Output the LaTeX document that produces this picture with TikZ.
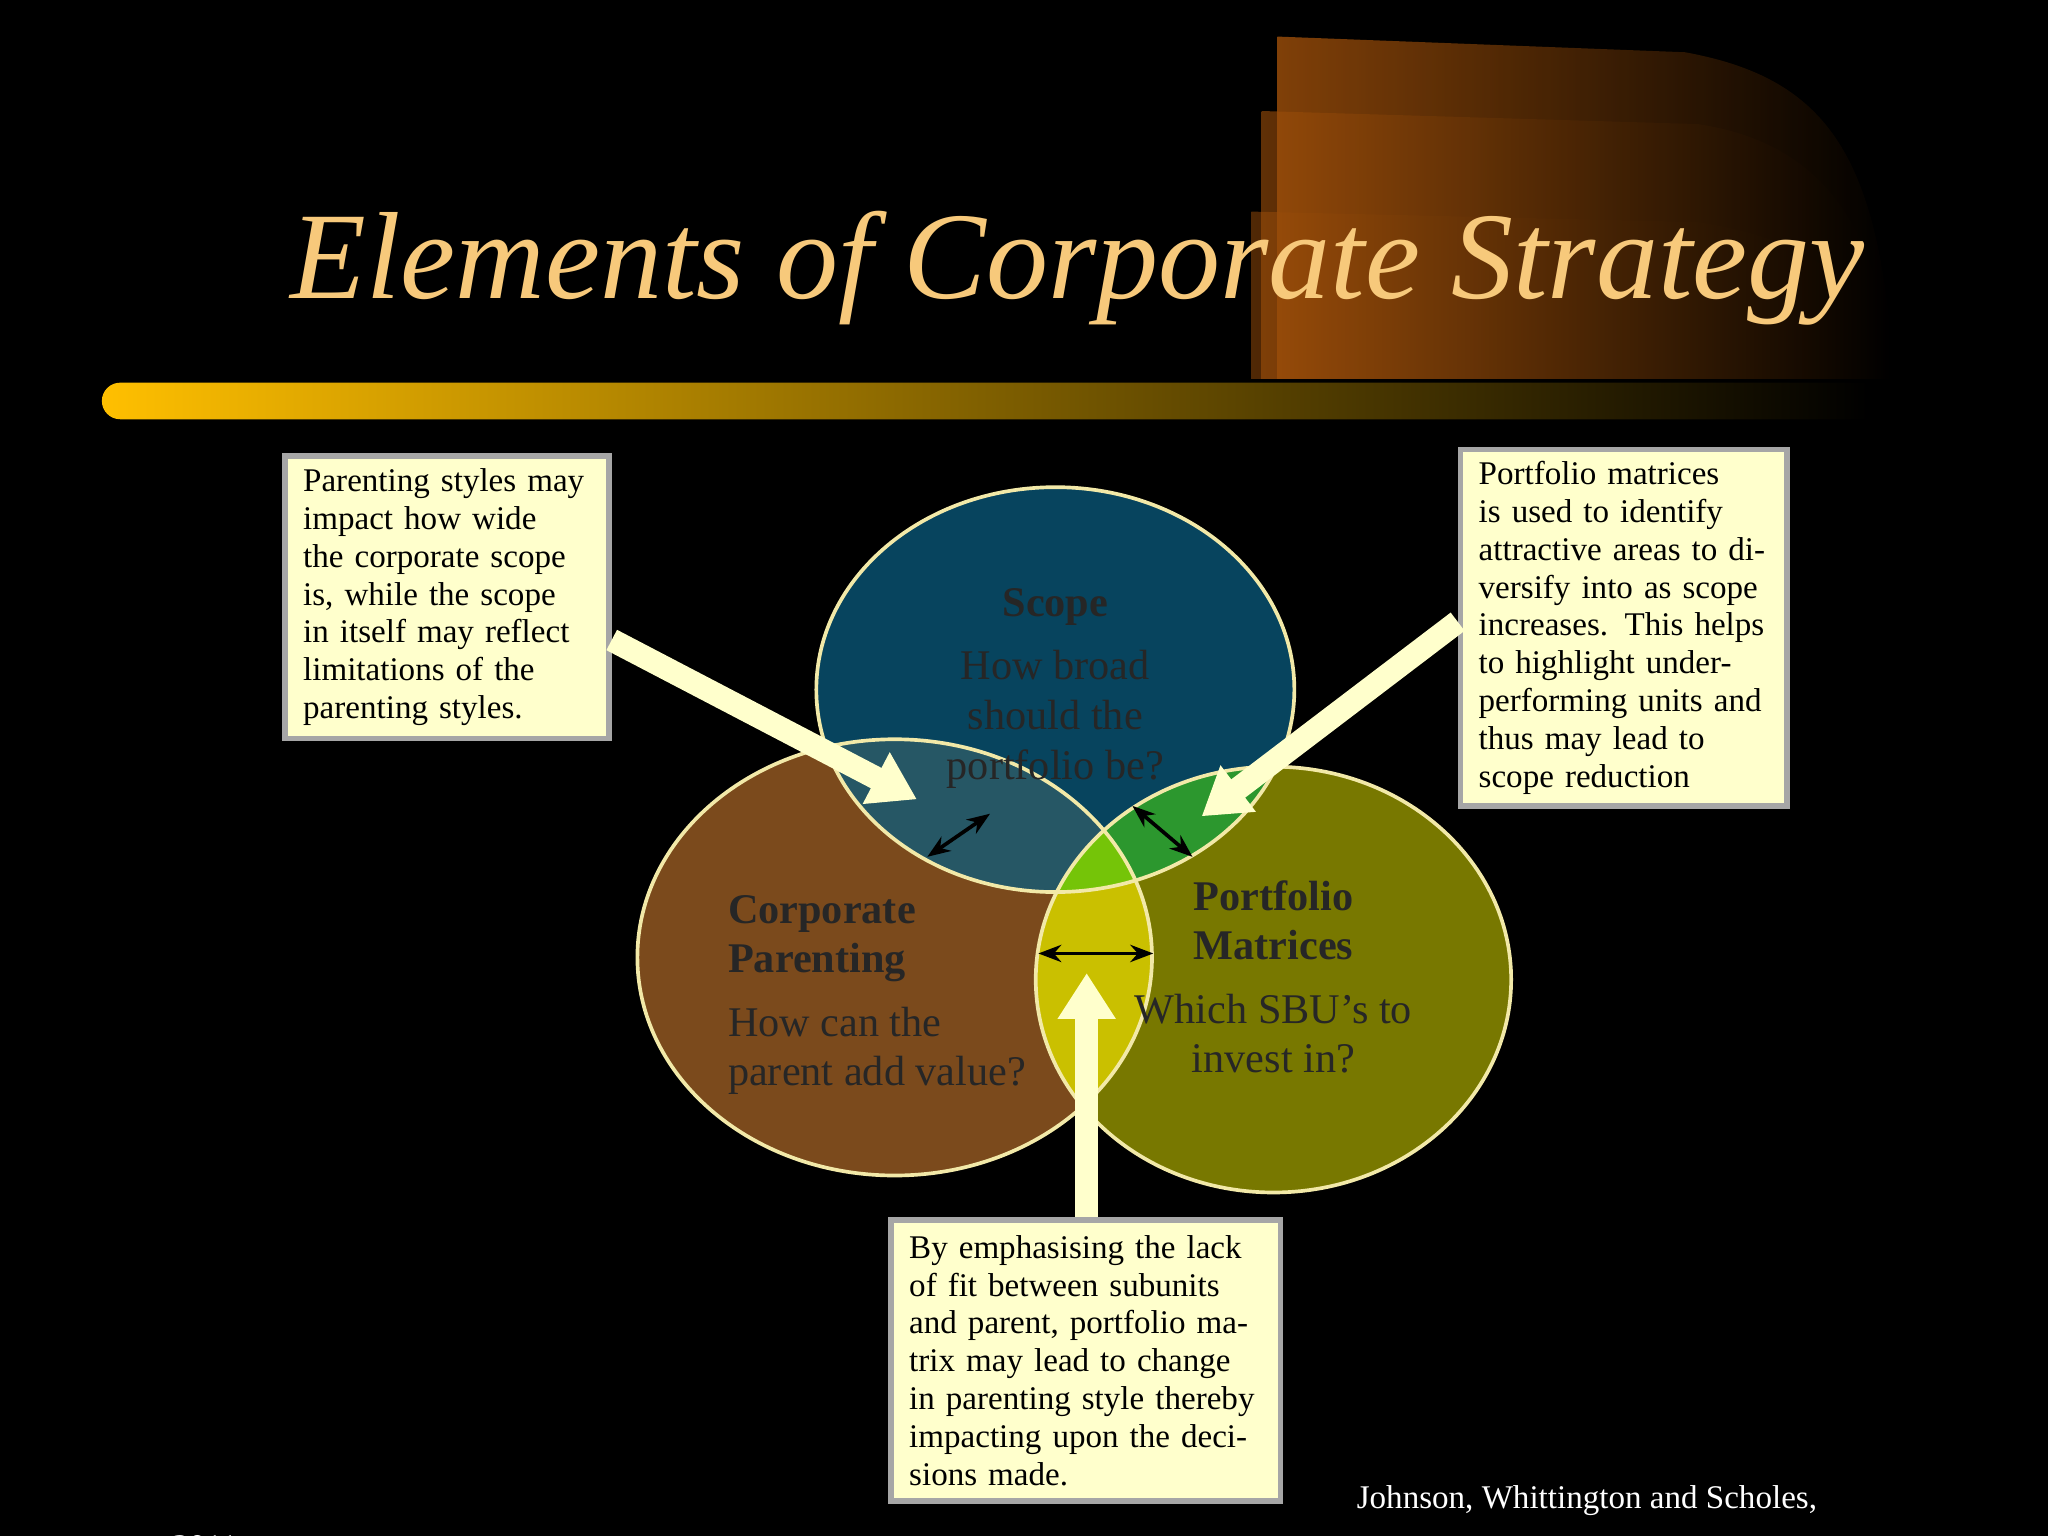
\documentclass[tikz,border=0pt]{standalone}
\usepackage{fontspec}
\setmainfont{Liberation Serif}
\usetikzlibrary{arrows.meta}
\definecolor{titlec}{HTML}{F7C97B}
\definecolor{boxc}{HTML}{FFFFCC}
\definecolor{scopec}{HTML}{0A5C7E}
\definecolor{parc}{HTML}{7B4A1C}
\definecolor{portc}{HTML}{7F7F00}
\definecolor{ringc}{HTML}{F2E9A8}
\definecolor{arrc}{HTML}{FFFFCC}
\definecolor{tabc}{HTML}{A0500A}
\tikzset{
  note/.style={draw=gray!70,line width=1.2pt,fill=boxc,align=left,anchor=north west,inner xsep=0.14cm,inner ysep=0.08cm,font=\fontsize{7.2}{8.25}\selectfont,text=black},
  fat/.style={draw=arrc,line width=5pt,-{Triangle[width=12pt,length=10pt]}},
  dbl/.style={draw=black,line width=0.8pt,{Stealth[length=5pt]}-{Stealth[length=5pt]}},
  ring/.style={draw=ringc,line width=0.8pt},
  ctext/.style={font=\fontsize{9.2}{10.8}\selectfont,text=black!85,align=left}
}
\begin{document}
\begin{tikzpicture}[x=0.01cm,y=-0.01cm]
\fill[black] (0,0) rectangle (1568,1176);
\useasboundingbox (0,0) rectangle (1568,1176);
% decorative tabs
\shade[left color=tabc,right color=black,opacity=0.8] (978,28) -- (1290,40) .. controls (1400,60) and (1440,120) .. (1450,290) -- (978,290) -- cycle;
\shade[left color=tabc,right color=black,opacity=0.6] (966,85) -- (1300,95) .. controls (1400,110) and (1440,180) .. (1450,290) -- (966,290) -- cycle;
\shade[left color=tabc,right color=black,opacity=0.5] (958,162) -- (1300,170) .. controls (1400,185) and (1440,230) .. (1450,290) -- (958,290) -- cycle;
\node[text=titlec,font=\fontsize{27}{32}\selectfont\itshape] (title) at (825,205) {Elements of Corporate Strategy};
% bar
\shade[left color=orange!50!yellow,right color=black] (92,293) -- (1430,293) -- (1430,321) -- (92,321) arc[start angle=270,end angle=90,radius=0.14cm] -- cycle;
% circles
\fill[parc] (685,733) ellipse [x radius=197,y radius=167];
\fill[portc,fill opacity=0.95] (975,750) ellipse [x radius=182,y radius=163];
\fill[scopec,fill opacity=0.75] (808,528) ellipse [x radius=183,y radius=155];
\begin{scope}
\clip (685,733) ellipse [x radius=197,y radius=167];
\fill[yellow!70!olive,fill opacity=0.8] (975,750) ellipse [x radius=182,y radius=163];
\end{scope}
\begin{scope}
\clip (975,750) ellipse [x radius=182,y radius=163];
\fill[green!60!olive,fill opacity=0.5] (808,528) ellipse [x radius=183,y radius=155];
\end{scope}
\draw[ring] (685,733) ellipse [x radius=197,y radius=167];
\draw[ring] (975,750) ellipse [x radius=182,y radius=163];
\draw[ring] (808,528) ellipse [x radius=183,y radius=155];
\node[ctext,align=center] (scope) at (808,527) {\textbf{Scope}\\[3pt]How broad\\should the\\portfolio be?};
\node[ctext,anchor=north west] (par) at (545,673) {\textbf{Corporate}\\\textbf{Parenting}\\[3pt]How can the\\parent add value?};
\node[ctext,align=center] (port) at (975,748) {\textbf{Portfolio}\\\textbf{Matrices}\\[3pt]Which SBU's to\\invest in?};
% boxes
\node[note,minimum width=2.48cm,minimum height=2.16cm,text width=2.2cm] (b1) at (216,347) {Parenting styles may impact how wide the corporate scope is, while the scope in itself may reflect limitations of the parenting styles.};
\node[note,minimum width=2.5cm,minimum height=2.73cm,text width=2.22cm] (b2) at (1116,342) {Portfolio matrices is used to identify attractive areas to diversify into as scope increases. This helps to highlight underperforming units and thus may lead to scope reduction};
\node[note,minimum width=2.98cm,minimum height=2.15cm,text width=2.7cm] (b3) at (680,932) {By emphasising the lack of fit between subunits and parent, portfolio matrix may lead to change in parenting style thereby impacting upon the decisions made.};
% arrows
\coordinate (t1) at (702,612);
\coordinate (t2) at (920,625);
\coordinate (t3) at (832,745);
\draw[fat] (b1.east |- 0,490) -- (t1);
\draw[fat] (b2.west |- 0,476) -- (t2);
\draw[fat] (b3.north -| t3) -- (t3);
\coordinate (d1a) at (710,656); \coordinate (d1b) at (758,623);
\coordinate (d2a) at (867,617); \coordinate (d2b) at (913,656);
\coordinate (d3a) at (795,730); \coordinate (d3b) at (883,730);
\draw[dbl] (d1a) -- (d1b);
\draw[dbl] (d2a) -- (d2b);
\draw[dbl] (d3a) -- (d3b);
\node[text=white,font=\fontsize{7.2}{8.6}\selectfont] (ref) at (1215,1149) {Johnson, Whittington and Scholes,};
\node[text=white,font=\fontsize{7.2}{8.6}\selectfont,anchor=north] (yr) at (157,1163) {2011};
\end{tikzpicture}
\end{document}
